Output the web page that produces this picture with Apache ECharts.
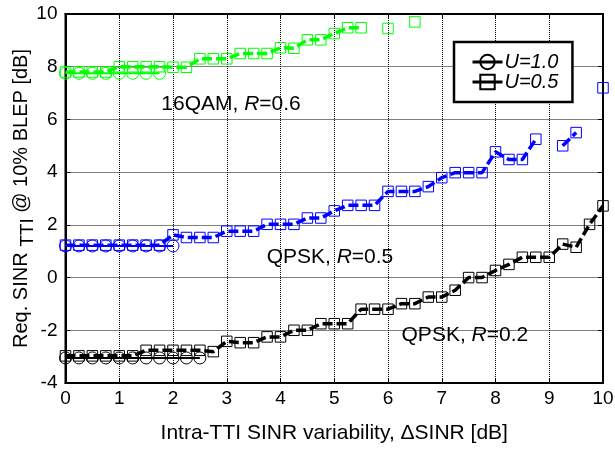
<!DOCTYPE html>
<html><head><meta charset="utf-8">
<script src="https://cdn.jsdelivr.net/npm/echarts@6/dist/echarts.min.js"></script>
<style>html,body{margin:0;padding:0;background:#fff}#c{width:615px;height:450px}</style>
</head><body><div id="c"></div>
<script>
// ---- data ----
const deltaSINR = [0,0.25,0.5,0.75,1,1.25,1.5,1.75,2,2.25,2.5,2.75,3,3.25,3.5,3.75,4,4.25,4.5,4.75,5,5.25,5.5,5.75,6,6.25,6.5,6.75,7,7.25,7.5,7.75,8,8.25,8.5,8.75,9,9.25,9.5,9.75,10];

// U = 0.5 (squares, dashed)
const qam16_U05 = [7.8,7.8,7.8,7.8,8.0,8.0,8.0,8.0,7.98,7.98,8.3,8.3,8.3,8.5,8.5,8.5,8.72,8.7,9.02,9.02,9.26,9.48,9.48,null,9.45,null,9.7,null,null,null,null,null,null,null,null,null,null,null,null,null,null];
const qpsk05_U05 = [1.23,1.23,1.23,1.23,1.23,1.23,1.23,1.23,1.62,1.52,1.52,1.52,1.76,1.76,1.76,2.02,2.02,2.02,2.26,2.26,2.53,2.74,2.74,2.74,3.27,3.27,3.27,3.45,3.79,3.98,3.98,3.98,4.77,4.48,4.48,5.25,null,5.0,5.5,null,7.2];
const qpsk02_U05 = [-2.97,-2.97,-2.97,-2.97,-2.97,-2.97,-2.76,-2.76,-2.76,-2.76,-2.76,-2.81,-2.42,-2.47,-2.47,-2.25,-2.25,-2.0,-2.0,-1.75,-1.75,-1.75,-1.2,-1.2,-1.2,-0.99,-0.99,-0.74,-0.74,-0.48,0.0,0.0,0.27,0.5,0.77,0.77,0.77,1.27,1.15,2.02,2.72];

// U = 1.0 (circles, solid)
const qam16_U10 = [7.75,7.75,7.75,7.75,7.75,7.75,7.75,7.75];
const qpsk05_U10 = [1.2,1.2,1.2,1.2,1.2,1.2,1.2,1.2,1.2];
const qpsk02_U10 = [-3.05,-3.05,-3.05,-3.05,-3.05,-3.05,-3.05,-3.05,-3.05,-3.05,-3.05];

const xTicks = [0,1,2,3,4,5,6,7,8,9,10];
const yTicks = [-4,-2,0,2,4,6,8,10];

const legendNames = ['U=1.0','U=0.5'];
const annotations = [
  {x:3.08, y:6.59, pre:'16QAM, ', r:'R', post:'=0.6'},
  {x:4.92, y:0.77, pre:'QPSK, ', r:'R', post:'=0.5'},
  {x:7.43, y:-2.19, pre:'QPSK, ', r:'R', post:'=0.2'}
];

// ---- chart ----
const FONT = 'Liberation Sans, Arial, Helvetica, sans-serif';
const pair = ys => ys.map((y,i)=>[deltaSINR[i], y==null?'-':y]);

function circleSeries(ys, color){
  return {type:'line', data:pair(ys), symbol:'circle', symbolSize:12, showSymbol:true,
    itemStyle:{color:'transparent', borderColor:color, borderWidth:1},
    lineStyle:{color:color, width:2, type:'solid'}, connectNulls:false, animation:false, z:2};
}
function squareSeries(ys, color){
  return {type:'line', data:pair(ys), symbol:'rect', symbolSize:10.5, showSymbol:true,
    itemStyle:{color:'transparent', borderColor:color, borderWidth:1},
    lineStyle:{color:color, width:3.5, type:[10,4]}, connectNulls:false, animation:false, z:3};
}

const series = [
  circleSeries(qam16_U10,'#00ff00'),
  circleSeries(qpsk05_U10,'#0000ff'),
  circleSeries(qpsk02_U10,'#000000'),
  squareSeries(qam16_U05,'#00ff00'),
  squareSeries(qpsk05_U05,'#0000ff'),
  squareSeries(qpsk02_U05,'#000000'),
  {name:legendNames[0], type:'line', data:[], symbol:'circle', symbolSize:12,
   itemStyle:{color:'transparent', borderColor:'#000', borderWidth:1}, lineStyle:{color:'#000', width:3}},
  {name:legendNames[1], type:'line', data:[], symbol:'rect', symbolSize:10,
   itemStyle:{color:'transparent', borderColor:'#000', borderWidth:1}, lineStyle:{color:'#000', width:3}},
  {type:'scatter', symbolSize:0, animation:false, silent:true,
   itemStyle:{opacity:1},
   data: annotations.map(a=>({value:[a.x,a.y], label:{show:true, position:'inside',
     formatter: a.pre + '{i|' + a.r + '}' + a.post}})),
   label:{color:'#000', fontSize:21, fontFamily:FONT, opacity:1,
     rich:{i:{fontStyle:'italic', fontSize:21, fontFamily:FONT, color:'#000'}}},
   z:5}
];

const chart = echarts.init(document.getElementById('c'), null, {renderer:'canvas'});
chart.setOption({
  backgroundColor:'#fff',
  animation:false,
  grid:{left:65.5, right:12, top:14, bottom:67, show:true, borderColor:'#000', borderWidth:2,
        containLabel:false, outerBoundsMode:'none'},
  legend:{data:legendNames, orient:'vertical', left:454, top:42, width:121,
    padding:[10,14,10,17], itemGap:0, itemWidth:30, itemHeight:18,
    backgroundColor:'#fff', borderColor:'#000', borderWidth:2.5,
    lineStyle:{width:3, color:'#000'},
    textStyle:{fontSize:20, fontStyle:'italic', fontFamily:FONT, color:'#000', padding:[0,0,0,-3]}},
  xAxis:[{type:'value', min:xTicks[0], max:xTicks[xTicks.length-1], interval:1,
    axisLine:{show:true, onZero:false, lineStyle:{color:'#000', width:2}},
    axisTick:{show:true, inside:true, length:5, lineStyle:{color:'#000'}},
    axisLabel:{fontSize:19, color:'#000', fontFamily:FONT, margin:6},
    splitLine:{show:true, lineStyle:{color:'#000', type:'dotted', width:1}},
    name:'Intra-TTI SINR variability, \u0394SINR [dB]', nameLocation:'middle', nameGap:40, nameMoveOverlap:false,
    nameTextStyle:{fontSize:21, color:'#000', fontFamily:FONT}},
   {type:'value', position:'top', min:xTicks[0], max:xTicks[xTicks.length-1], interval:1,
    axisLine:{show:true, onZero:false, lineStyle:{color:'#000', width:2}},
    axisTick:{show:true, inside:true, length:5, lineStyle:{color:'#000'}},
    axisLabel:{show:false}, splitLine:{show:false}}],
  yAxis:[{type:'value', min:yTicks[0], max:yTicks[yTicks.length-1], interval:2,
    axisLine:{show:true, onZero:false, lineStyle:{color:'#000', width:2}},
    axisTick:{show:true, inside:true, length:5, lineStyle:{color:'#000'}},
    axisLabel:{fontSize:19, color:'#000', fontFamily:FONT, margin:8},
    splitLine:{show:true, lineStyle:{color:'#000', type:'dotted', width:1}},
    name:'{n|Req. SINR }{s|TTI}{n| @ 10% BLEP [dB]}', nameLocation:'middle', nameGap:28, nameRotate:90,
    nameMoveOverlap:false,
    nameTextStyle:{fontSize:20, color:'#000', fontFamily:FONT,
      rich:{n:{fontSize:20, fontFamily:FONT, color:'#000', verticalAlign:'top', lineHeight:20},
            s:{fontSize:19, fontFamily:FONT, color:'#000', verticalAlign:'bottom', lineHeight:26}}}},
   {type:'value', position:'right', min:yTicks[0], max:yTicks[yTicks.length-1], interval:2,
    axisLine:{show:true, onZero:false, lineStyle:{color:'#000', width:2}},
    axisTick:{show:true, inside:true, length:5, lineStyle:{color:'#000'}},
    axisLabel:{show:false}, splitLine:{show:false}}],
  series: series
});
</script>
</body></html>
